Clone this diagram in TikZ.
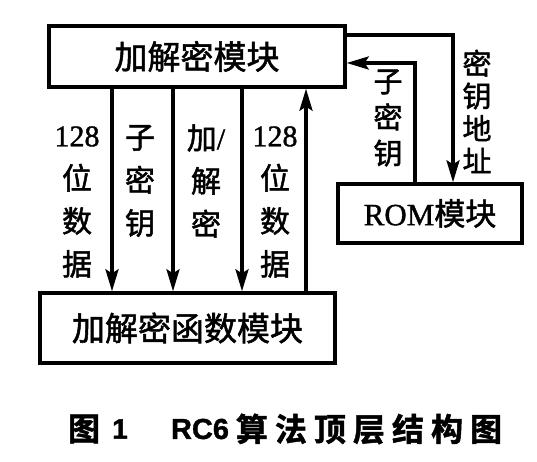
\documentclass[tikz,border=0pt]{standalone}
\usepackage{fontspec}
\setmainfont[FakeBold=1.2]{Liberation Serif}
\newfontfamily\cjk[FakeBold=1.6]{Noto Sans CJK SC}
\newfontfamily\capcjk[LetterSpace=22,FakeBold=1.5]{Noto Sans CJK SC Bold}
\newfontfamily\caplat[FakeBold=1.2]{Liberation Sans Bold}
\usetikzlibrary{arrows.meta}
\begin{document}
\begin{tikzpicture}[x=1pt,y=-1pt,
  box/.style={draw, line width=3.4pt, inner sep=0pt},
  arr/.style={line width=3.2pt, -{Stealth[length=22pt,width=13pt,inset=4pt]}},
  lbl/.style={align=center, inner sep=0pt, font=\fontsize{30}{43}\selectfont},
  rlbl/.style={align=center, inner sep=0pt, font=\fontsize{28}{33}\selectfont}]
\useasboundingbox (0,0) rectangle (537,462);
% boxes
\node[box, minimum width=296pt, minimum height=61pt] (enc) at (197,56.5)
  {\fontsize{33}{33}\selectfont\cjk 加解密模块};
\node[box, minimum width=295pt, minimum height=70pt] (fun) at (187.5,328)
  {\fontsize{33}{33}\selectfont\cjk 加解密函数模块};
\node[box, minimum width=184pt, minimum height=59pt] (rom) at (430,213.5)
  {\fontsize{31}{31}\selectfont ROM{\cjk 模块}};
% helper coordinates
\coordinate (x1) at (112,0);
\coordinate (x2) at (173,0);
\coordinate (x3) at (242,0);
\coordinate (x4) at (306,0);
\coordinate (ka) at (453,35);
\coordinate (sk) at (415,63);
% connectors
\draw[arr] (x1 |- enc.south) -- (x1 |- fun.north);
\draw[arr] (x2 |- enc.south) -- (x2 |- fun.north);
\draw[arr] (x3 |- enc.south) -- (x3 |- fun.north);
\draw[arr] (x4 |- fun.north) -- (x4 |- enc.south);
\draw[arr] (ka -| enc.east) -- (ka) -- (ka |- rom.north);
\draw[arr] (sk |- rom.north) -- (sk) -- (sk -| enc.east);
% labels
\node[lbl] (l1) at (77,202) {128\\{\cjk 位}\\{\cjk 数}\\{\cjk 据}};
\node[lbl] (l2) at (140,181) {\cjk 子\\\cjk 密\\\cjk 钥};
\node[lbl] (l3) at (206,181) {{\cjk 加}/\\{\cjk 解}\\{\cjk 密}};
\node[lbl] (l4) at (275,202) {128\\{\cjk 位}\\{\cjk 数}\\{\cjk 据}};
\node[align=center, inner sep=0pt, font=\fontsize{29}{36}\selectfont\cjk] (l5) at (388,118) {子\\密\\钥};
\node[rlbl, font=\fontsize{29}{32.5}\selectfont\cjk] (l6) at (477,111.5) {密\\钥\\地\\址};
% caption
\node[font=\fontsize{32}{32}\selectfont\capcjk, inner sep=0pt] (c1) at (84,429) {图};
\node[font=\fontsize{28}{28}\selectfont\caplat, inner sep=0pt] (c2) at (120,429) {1};
\node[font=\fontsize{29}{29}\selectfont\caplat, inner sep=0pt] (c3) at (200,429) {RC6};
\node[font=\fontsize{32}{32}\selectfont\capcjk, inner sep=0pt] (c4) at (369,429) {算法顶层结构图};
\end{tikzpicture}
\end{document}
